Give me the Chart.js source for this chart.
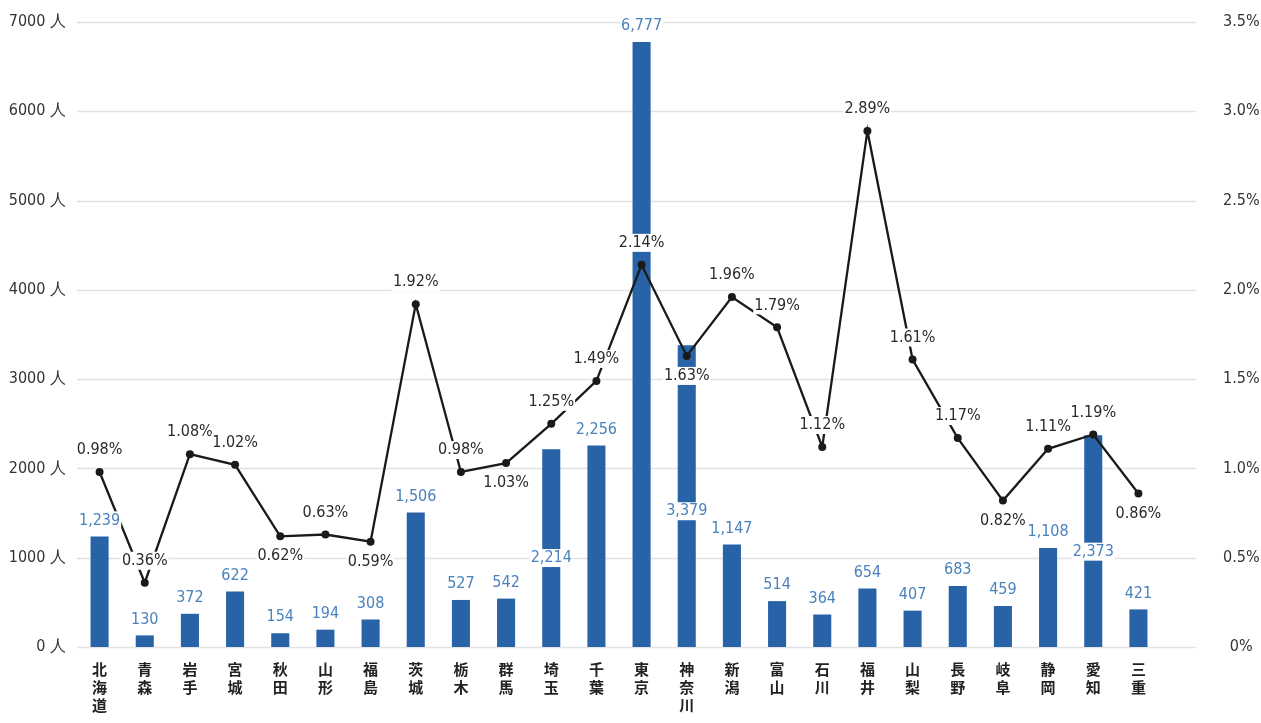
<!DOCTYPE html>
<html lang="ja">
<head>
<meta charset="utf-8">
<script src="https://cdn.jsdelivr.net/npm/chart.js@4/dist/chart.umd.min.js"></script>
<style>
  html, body { margin: 0; padding: 0; background: #fff; }
  #wrap { width: 1261px; height: 723px; position: relative; }
</style>
</head>
<body>
<div id="wrap"><canvas id="chart"></canvas></div>
<script>
// 都道府県ごとの人数（棒）と割合（折れ線）
const prefectures = ['北海道', '青森', '岩手', '宮城', '秋田', '山形', '福島', '茨城', '栃木', '群馬', '埼玉', '千葉',
    '東京', '神奈川', '新潟', '富山', '石川', '福井', '山梨', '長野', '岐阜', '静岡', '愛知', '三重'];
const workers = [1239, 130, 372, 622, 154, 194, 308, 1506, 527, 542, 2214, 2256,
    6777, 3379, 1147, 514, 364, 654, 407, 683, 459, 1108, 2373, 421];
const ratios = [0.98, 0.36, 1.08, 1.02, 0.62, 0.63, 0.59, 1.92, 0.98, 1.03, 1.25, 1.49,
    2.14, 1.63, 1.96, 1.79, 1.12, 2.89, 1.61, 1.17, 0.82, 1.11, 1.19, 0.86];
const leftTicks = [0, 1000, 2000, 3000, 4000, 5000, 6000, 7000];
const rightTicks = [0, 0.5, 1.0, 1.5, 2.0, 2.5, 3.0, 3.5];

// 割合ラベルを点の上下どちらに置くか
const ratioLabelSide = ['above', 'above', 'above', 'above', 'below', 'above', 'below', 'above', 'above', 'below', 'above', 'above',
    'above', 'below', 'above', 'above', 'above', 'above', 'above', 'above', 'below', 'above', 'above', 'below'];
// 人数ラベルを棒の中に置く項目
const barLabelInside = [10, 13, 22];

const NUM_FONT = "'DejaVu Sans Condensed', 'Roboto', sans-serif";
const BAR_COLOR = '#2863a8';
const BAR_TEXT = '#4a82bd';

function drawBoxedText(ctx, text, x, y, color) {
    const w = ctx.measureText(text).width;
    ctx.fillStyle = '#fff';
    ctx.fillRect(x - w / 2 - 1, y - 9, w + 2, 18);
    ctx.fillStyle = color;
    ctx.fillText(text, x, y);
}

const extendedGrid = {
    id: 'extendedGrid',
    beforeDatasetsDraw(chart) {
        const { ctx, chartArea, scales } = chart;
        ctx.save();
        ctx.strokeStyle = '#e2e2e2';
        ctx.lineWidth = 1.5;
        leftTicks.forEach(v => {
            const y = Math.round(scales.y.getPixelForValue(v)) + 0.5;
            ctx.beginPath();
            ctx.moveTo(chartArea.left, y);
            ctx.lineTo(chartArea.right + 35, y);
            ctx.stroke();
        });
        ctx.restore();
    }
};

const valueLabels = {
    id: 'valueLabels',
    afterDatasetsDraw(chart) {
        const { ctx, scales } = chart;
        const bars = chart.getDatasetMeta(0).data;
        const points = chart.getDatasetMeta(1).data;
        ctx.save();
        ctx.textAlign = 'center';
        ctx.textBaseline = 'middle';
        ctx.font = `16px ${NUM_FONT}`;

        workers.forEach((v, i) => {
            const x = bars[i].x;
            let y;
            if (barLabelInside.includes(i)) {
                y = scales.y.getPixelForValue(v * 0.45);
            } else {
                y = scales.y.getPixelForValue(v) - 16;
            }
            drawBoxedText(ctx, v.toLocaleString('en-US'), x, y, BAR_TEXT);
        });

        ratios.forEach((v, i) => {
            const p = points[i];
            const y = ratioLabelSide[i] === 'above' ? p.y - 22 : p.y + 20;
            drawBoxedText(ctx, v.toFixed(2) + '%', p.x, y, '#2a2a2a');
        });
        ctx.restore();
    }
};

new Chart(document.getElementById('chart'), {
    data: {
        labels: prefectures.map(p => p.split('')),
        datasets: [
            {
                type: 'bar',
                data: workers,
                yAxisID: 'y',
                backgroundColor: BAR_COLOR,
                barPercentage: 0.8,
                categoryPercentage: 0.5,
                order: 2
            },
            {
                type: 'line',
                data: ratios,
                yAxisID: 'y2',
                borderColor: '#1a1a1a',
                borderWidth: 2.3,
                pointRadius: 4,
                pointBackgroundColor: '#1a1a1a',
                pointBorderWidth: 0,
                tension: 0,
                order: 1
            }
        ]
    },
    options: {
        responsive: true,
        maintainAspectRatio: false,
        animation: false,
        layout: { padding: { top: 22, bottom: 0, left: 0, right: 0 } },
        plugins: {
            legend: { display: false },
            tooltip: { enabled: false }
        },
        scales: {
            x: {
                grid: { display: false },
                border: { display: false },
                ticks: {
                    color: '#222',
                    maxRotation: 0,
                    autoSkip: false,
                    padding: 5,
                    font: { family: "'Noto Sans CJK JP', sans-serif", size: 15, weight: 'bold', lineHeight: 1.2 }
                },
                afterFit(scale) { scale.height = 76; }
            },
            y: {
                position: 'left',
                min: 0,
                max: 7000,
                grid: { display: false },
                border: { display: false },
                afterBuildTicks(scale) { scale.ticks = leftTicks.map(v => ({ value: v })); },
                ticks: {
                    color: '#333',
                    padding: 3,
                    font: { family: NUM_FONT, size: 16 },
                    callback: v => v + ' 人'
                },
                afterFit(scale) { scale.width = 77; }
            },
            y2: {
                position: 'right',
                min: 0,
                max: 3.5,
                // 目盛り線は描かず、tickLength で文字位置だけ右へずらす
                grid: { display: true, drawOnChartArea: false, drawTicks: true, tickLength: 58, tickColor: 'rgba(0,0,0,0)' },
                border: { display: false },
                afterBuildTicks(scale) { scale.ticks = rightTicks.map(v => ({ value: v })); },
                ticks: {
                    color: '#333',
                    padding: 4,
                    crossAlign: 'center',
                    font: { family: NUM_FONT, size: 16 },
                    callback: v => (v === 0 ? '0' : v.toFixed(1)) + '%'
                },
                afterFit(scale) { scale.width = 100; }
            }
        }
    },
    plugins: [extendedGrid, valueLabels]
});
</script>
</body>
</html>
